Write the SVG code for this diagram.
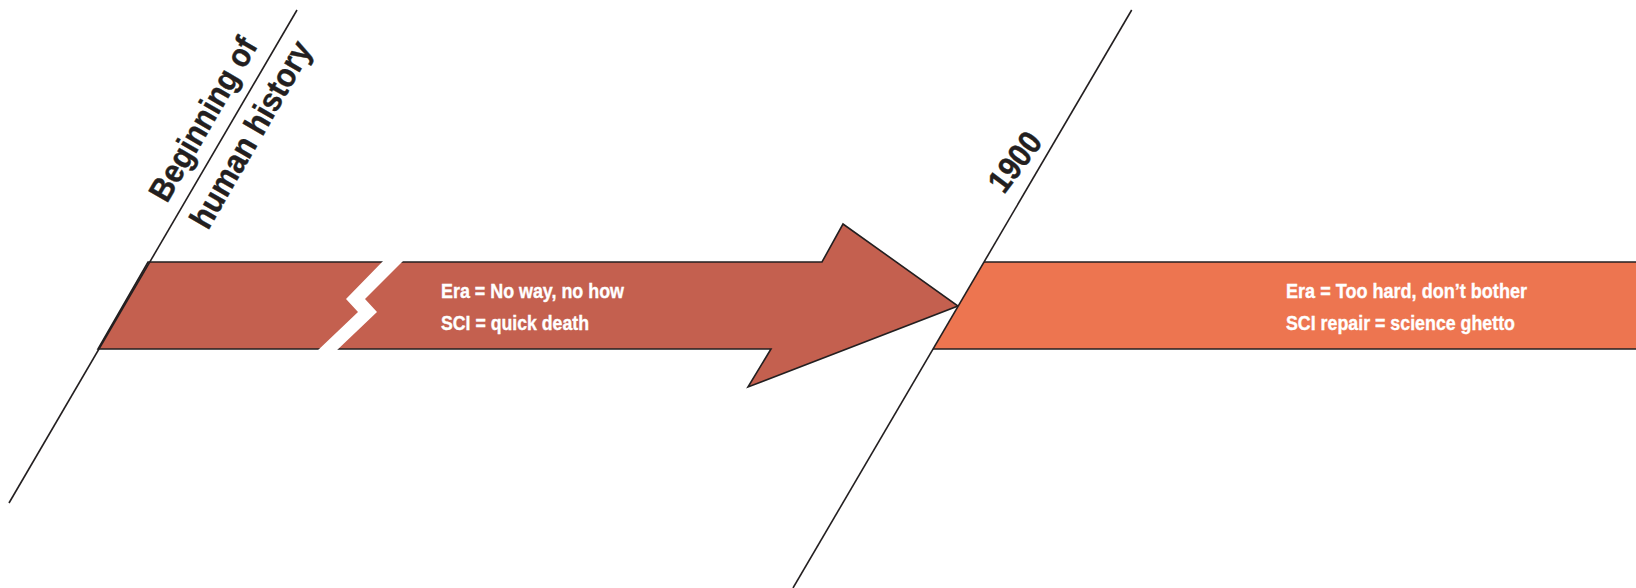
<svg xmlns="http://www.w3.org/2000/svg" width="1636" height="588" viewBox="0 0 1636 588">
  <style>
    .band-text { font-family: "Liberation Sans", Arial, sans-serif; font-weight: bold; font-size: 20px; fill: #ffffff; stroke: #ffffff; stroke-width: 0.35; }
    .axis-text { font-family: "Liberation Sans", Arial, sans-serif; font-weight: bold; font-size: 33px; fill: #231f20; stroke: #231f20; stroke-width: 0.4; }
    .edge { stroke: #231f20; stroke-width: 1.6; fill: none; }
  </style>
  <rect width="1636" height="588" fill="#ffffff"/>

  <g id="era1">
    <polygon points="148,262 822,262 843,224 958,306 748,387 771,349 98,349" fill="#c4604f" stroke="#231f20" stroke-width="1.6" stroke-linejoin="miter"/>
    <polygon points="385,259 346,299 358,312 316,352 335,352 377,312 365,299 405,259" fill="#ffffff"/>
    <text class="band-text" x="441" y="298" textLength="183" lengthAdjust="spacingAndGlyphs">Era = No way, no how</text>
    <text class="band-text" x="441" y="330" textLength="148" lengthAdjust="spacingAndGlyphs">SCI = quick death</text>
  </g>

  <g id="era2">
    <polygon points="984,262 1640,262 1640,349 933,349" fill="#ed7550"/>
    <line class="edge" x1="984" y1="262" x2="1640" y2="262"/>
    <line class="edge" x1="933" y1="349" x2="1640" y2="349"/>
    <text class="band-text" x="1286" y="298" textLength="241" lengthAdjust="spacingAndGlyphs">Era = Too hard, don’t bother</text>
    <text class="band-text" x="1286" y="330" textLength="229" lengthAdjust="spacingAndGlyphs">SCI repair = science ghetto</text>
  </g>

  <g id="marker-beginning">
    <line class="edge" x1="297" y1="10" x2="9" y2="503"/>
    <text class="axis-text" x="167" y="204" transform="rotate(-60 167 204)" textLength="183" lengthAdjust="spacingAndGlyphs">Beginning of</text>
    <text class="axis-text" x="208" y="231" transform="rotate(-60 208 231)" textLength="210" lengthAdjust="spacingAndGlyphs">human history</text>
  </g>

  <g id="marker-1900">
    <line class="edge" x1="1131.7" y1="10" x2="793" y2="588"/>
    <text class="axis-text" x="1004" y="195" transform="rotate(-53 1004 195)" textLength="66" lengthAdjust="spacingAndGlyphs">1900</text>
  </g>
</svg>
